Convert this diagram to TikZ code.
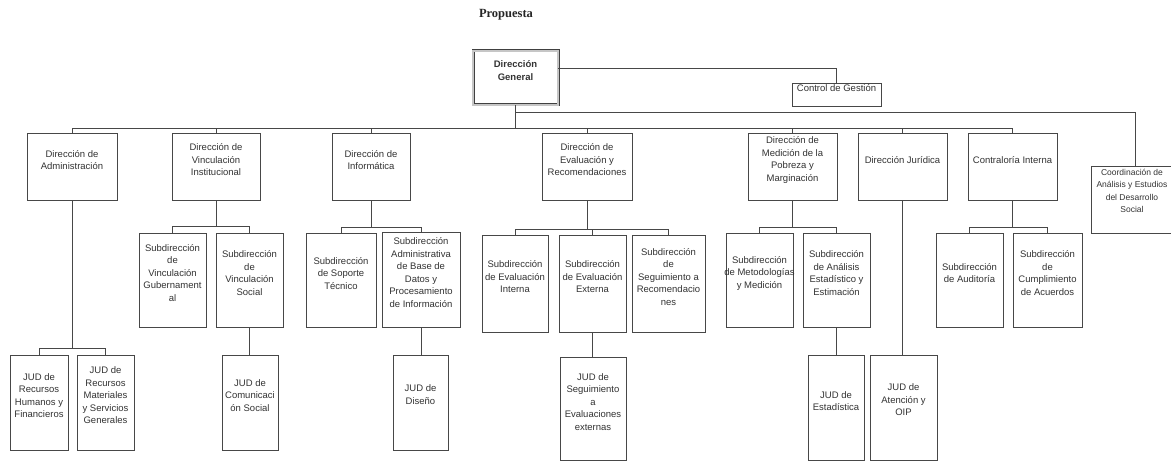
\documentclass[tikz,border=0pt]{standalone}
\usepackage{fontspec}
\setmainfont{Liberation Sans}
\newfontfamily\serf{Liberation Serif}
\usetikzlibrary{calc}
\tikzset{
  bx/.style={draw=black!72, line width=0.9pt, rectangle, inner sep=0pt, fill=white},
  tx/.style={align=center, text=black!80, inner sep=0pt, font=\fontsize{9.5}{12.5}\selectfont},
  ln/.style={draw=black!72, line width=0.9pt},
}
\newcommand\OB[7]{\node[bx,minimum width=#4pt,minimum height=#5pt,label={[tx,yshift=#6pt]center:{#7}}] (#1) at (#2,#3) {};}
\begin{document}
\begin{tikzpicture}[x=1pt,y=-1pt]
\useasboundingbox[fill=white] (0,0) rectangle (1171,462);
\node[font=\serf\bfseries\fontsize{12.5}{14}\selectfont, text=black!85] (title) at (506,15) {Propuesta};
% Direccion General
\node[draw=black!75, line width=0.7pt, double=gray!45, double distance=1.6pt, minimum width=85pt, minimum height=54pt, inner sep=0pt,
  label={[tx,font=\bfseries\fontsize{9.5}{12.5}\selectfont,yshift=7.5pt]center:{Dirección\\General}}] (dg) at (515.5,78) {};
\OB{ctrl}{836.5}{94.5}{89}{23}{6}{Control de Gestión}
% level 1
\OB{adm}{72}{166.5}{90}{67}{6.5}{Dirección de\\Administración}
\OB{vin}{216}{166.5}{88}{67}{6.5}{Dirección de\\Vinculación\\Institucional}
\OB{inf}{371}{166.5}{78}{67}{6.5}{Dirección de\\Informática}
\OB{eva}{587}{166.5}{90}{67}{6.5}{Dirección de\\Evaluación y\\Recomendaciones}
\OB{med}{792.5}{166.5}{89}{67}{6.5}{Dirección de\\Medición de la\\Pobreza y\\Marginación}
\OB{jur}{902.5}{166.5}{89}{67}{6.5}{Dirección Jurídica}
\OB{con}{1012.5}{166.5}{89}{67}{6.5}{Contraloría Interna}
\node[bx,minimum width=88pt,minimum height=67pt,
  label={[tx,font=\fontsize{8.5}{12.5}\selectfont,yshift=8.5pt,xshift=-3pt]center:{Coordinación de\\Análisis y Estudios\\del Desarrollo\\Social}}] (coord) at (1135,199.5) {};
% level 2
\OB{vgub}{172.5}{280}{67}{94}{7}{Subdirección\\de\\Vinculación\\Gubernament\\al}
\OB{vsoc}{249.5}{280}{67}{94}{7}{Subdirección\\de\\Vinculación\\Social}
\OB{sop}{341}{280}{70}{94}{6.5}{Subdirección\\de Soporte\\Técnico}
\OB{bdd}{421}{279.5}{78}{95}{7}{Subdirección\\Administrativa\\de Base de\\Datos y\\Procesamiento\\de Información}
\OB{eint}{515}{283.5}{66}{97}{6.5}{Subdirección\\de Evaluación\\Interna}
\OB{eext}{592.5}{283.5}{67}{97}{6.5}{Subdirección\\de Evaluación\\Externa}
\OB{seg}{668.5}{283.5}{73}{97}{6.5}{Subdirección\\de\\Seguimiento a\\Recomendacio\\nes}
\OB{met}{759.5}{280}{67}{94}{7}{Subdirección\\de Metodologías\\y Medición}
\OB{ana}{836.5}{280}{67}{94}{7}{Subdirección\\de Análisis\\Estadístico y\\Estimación}
\OB{aud}{969.5}{280}{67}{94}{7}{Subdirección\\de Auditoría}
\OB{cum}{1047.5}{280}{69}{94}{7}{Subdirección\\de\\Cumplimiento\\de Acuerdos}
% level 3
\OB{rh}{39}{402.5}{58}{95}{7}{JUD de\\Recursos\\Humanos y\\Financieros}
\OB{rm}{105.5}{402.5}{57}{95}{7}{JUD de\\Recursos\\Materiales\\y Servicios\\Generales}
\OB{com}{250}{402.5}{56}{95}{7}{JUD de\\Comunicaci\\ón Social}
\OB{dis}{420.5}{402.5}{55}{95}{8}{JUD de\\Diseño}
\OB{segev}{593}{408.5}{66}{103}{6.5}{JUD de\\Seguimiento\\a\\Evaluaciones\\externas}
\OB{est}{836}{407.5}{56}{105}{6.5}{JUD de\\Estadística}
\OB{ate}{903.5}{407.5}{67}{105}{7.5}{JUD de\\Atención y\\OIP}
% top connectors
\coordinate (busA) at (0,128);
\coordinate (busC) at (0,112);
\coordinate (busD) at (0,68);
\draw[ln] (dg.east |- busD) -| (ctrl.north);
\draw[ln] (dg.south) -- (dg.south |- busA);
\draw[ln] (dg.south |- busC) -| (coord.north);
\draw[ln] (adm.north) -- (adm.north |- busA) -| (con.north);
\foreach \n in {vin,inf,eva,med,jur}{\draw[ln] (\n.north) -- (\n.north |- busA);}
% level 1 -> 2
\draw[ln] (vgub.north) -- ++(0,-6) coordinate (b1) -| (vsoc.north);
\draw[ln] (vin.south) -- (vin.south |- b1);
\draw[ln] (sop.north) -- ++(0,-5) coordinate (b2) -| (bdd.north);
\draw[ln] (inf.south) -- (inf.south |- b2);
\draw[ln] (eint.north) -- ++(0,-5) coordinate (b3) -| (seg.north);
\draw[ln] (eext.north) -- (eext.north |- b3);
\draw[ln] (eva.south) -- (eva.south |- b3);
\draw[ln] (met.north) -- ++(0,-5) coordinate (b4) -| (ana.north);
\draw[ln] (med.south) -- (med.south |- b4);
\draw[ln] (aud.north) -- ++(0,-5) coordinate (b5) -| (cum.north);
\draw[ln] (con.south) -- (con.south |- b5);
\draw[ln] (rh.north) -- ++(0,-6) coordinate (b6) -| (rm.north);
\draw[ln] (adm.south) -- (adm.south |- b6);
\draw[ln] (jur.south) -- (jur.south |- ate.north);
% level 2 -> 3
\draw[ln] (vsoc.south) -- (vsoc.south |- com.north);
\draw[ln] (bdd.south) -- (bdd.south |- dis.north);
\draw[ln] (eext.south) -- (eext.south |- segev.north);
\draw[ln] (ana.south) -- (ana.south |- est.north);
\end{tikzpicture}
\end{document}
